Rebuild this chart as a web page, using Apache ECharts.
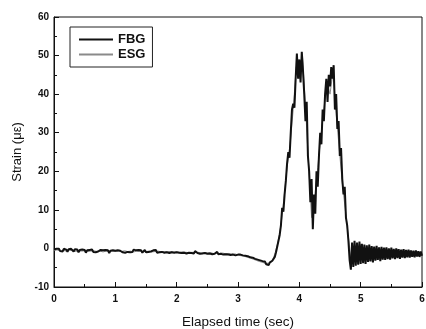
<!DOCTYPE html>
<html>
<head>
<meta charset="utf-8">
<script src="https://cdn.jsdelivr.net/npm/echarts@6/dist/echarts.min.js"></script>
<style>html,body{margin:0;padding:0;background:#fff;}#chart{width:426px;height:329px;}</style>
</head>
<body>
<div id="chart"></div>
<script>
// Sampling of the traces (seconds)
var fbgStart = 0, fbgStep = 0.02;
var esgStart = 0, esgStep = 0.05;

// FBG strain (µε), one value every 0.02 s from 0 to 6 s
var fbgStrain = [
  // 0.00 - 0.98
  -0.3,-0.7,-0.1,-0.6,-0.1,-0.7,-0.2,-0.8,-0.1,-0.6,
  -0.3,-0.9,-0.2,-0.7,-0.1,-0.6,-0.8,-0.2,-0.7,-0.3,
  -1.0,-0.4,-0.9,-0.3,-0.8,-0.4,-1.1,-0.5,-0.9,-0.4,
  -0.8,-0.3,-0.9,-0.4,-1.0,-0.5,-0.8,-1.1,-0.4,-0.9,
  -0.5,-1.0,-0.4,-0.9,-0.5,-1.2,-0.6,-1.0,-0.5,-0.9,
  // 1.00 - 1.98
  -0.6,-1.1,-0.5,-1.0,-0.6,-0.4,-1.0,-0.5,-1.1,-0.6,
  -0.9,-0.4,-1.0,-0.5,-0.9,-0.3,-0.8,-0.5,-1.0,-0.4,
  -0.9,-0.5,-1.1,-0.6,-0.4,-1.0,-0.5,-0.9,-0.4,-0.8,
  -1.0,-0.5,-0.9,-0.4,-1.1,-0.6,-1.0,-0.5,-0.9,-0.6,
  -1.1,-0.6,-1.0,-0.5,-1.2,-0.7,-1.0,-0.6,-1.1,-0.7,
  // 2.00 - 2.98
  -1.0,-0.6,-1.1,-0.7,-1.2,-0.7,-1.1,-0.6,-1.3,-0.8,
  -1.1,-0.7,-1.2,-0.8,-1.3,-0.7,-1.1,-1.2,-0.8,-1.4,
  -0.9,-1.3,-0.8,-1.2,-0.9,-1.4,-1.0,-1.3,-0.9,-1.5,
  -1.0,-1.4,-1.1,-0.9,-1.5,-1.1,-1.4,-1.0,-1.6,-1.1,
  -1.5,-1.2,-1.6,-1.1,-1.7,-1.3,-1.6,-1.2,-1.8,-1.4,
  // 3.00 - 3.48
  -1.6,-1.8,-1.6,-1.9,-1.8,-2.1,-1.9,-2.2,-2.0,-2.4,
  -2.3,-2.6,-2.4,-2.8,-2.7,-3.0,-2.9,-3.3,-3.1,-3.5,
  -3.3,-3.8,-3.4,-4.1,-3.7,
  // 3.50 - 3.58
  -4.3,-3.6,-4.0,-3.2,-3.5,
  // 3.60 - 3.96
  -2.2,-1.0,0.5,1.0,3.5,6.0,10.5,9.5,14,17.5,
  22,25,23.5,30,36,37.5,36.5,44,50.5,
  // 3.98 - 4.86
  44,49,43,51,46,40,33,38,24,20,
  12,18,5,14,9,20,16,24,30,27,
  36,33,40,44,38,45,42,47,44,47.5,
  36,40,31,33,24,26,18,14,16,8,
  6,2,-3,-5.5,1.5,
  // 4.88 - 6.00
  -4.8,2.0,-4.5,1.5,-4.2,1.8,-4.0,1.2,-3.8,1.0,
  -4.0,0.8,-3.5,1.0,-3.4,0.6,-3.6,0.5,-3.2,0.7,
  -3.0,0.3,-3.3,0.4,-2.9,0.2,-3.0,0.3,-2.8,0.0,
  -2.9,0.2,-2.6,-0.1,-2.8,0.0,-2.5,-0.2,-2.7,-0.3,
  -2.4,-0.2,-2.5,-0.4,-2.3,-0.3,-2.4,-0.5,-2.2,-0.6,
  -2.3,-0.5,-2.1,-0.7,-2.2,-0.8,-1.9
];

// ESG strain (µε), one value every 0.05 s from 0 to 6 s
var esgStrain = [
  -0.5,-0.4,-0.6,-0.5,-0.7,-0.5,-0.6,-0.8,-0.6,-0.7,-0.6,-0.8,-0.7,-0.6,-0.8,-0.7,-0.9,-0.7,-0.8,-0.7,
  -0.8,-0.7,-0.8,-0.6,-0.8,-0.7,-0.9,-0.7,-0.8,-0.7,-0.8,-0.7,-0.9,-0.8,-0.7,-0.9,-0.8,-0.9,-0.8,-0.9,
  -0.9,-1.0,-0.9,-1.0,-1.1,-1.0,-1.1,-1.0,-1.2,-1.1,-1.2,-1.1,-1.3,-1.2,-1.3,-1.2,-1.4,-1.3,-1.5,-1.4,
  -1.7,-1.9,-2.0,-2.3,-2.5,-2.8,-3.1,-3.4,-3.6,-3.9,-3.8,-3.5,
  -1.5,1.5,6,13,21,27,36,47,
  44,50,37,22,8,13,21,29,36,43,40,46,35,26,17,10,3,-4,-1,-4,
  1,-3.5,0.5,-3.2,0.3,-3,0.2,-2.8,0,-2.6,-0.2,-2.5,-0.3,-2.4,-0.4,-2.2,-0.6,-2.1,-0.8,-2.0,
  -1.5
];

var xTicks = [0, 1, 2, 3, 4, 5, 6];
var yTicks = [-10, 0, 10, 20, 30, 40, 50, 60];

function toPairs(start, step, vals) {
  var out = [];
  for (var i = 0; i < vals.length; i++) {
    out.push([+(start + i * step).toFixed(3), vals[i]]);
  }
  return out;
}

var font = 'Liberation Sans, Arial, Helvetica, sans-serif';
var chart = echarts.init(document.getElementById('chart'), null, {renderer: 'canvas'});
chart.setOption({
  animation: false,
  backgroundColor: '#fff',
  grid: {
    left: 54, right: 4, top: 17, bottom: 42,
    containLabel: false, outerBoundsMode: 'none',
    show: true, borderColor: '#111', borderWidth: 1, backgroundColor: 'transparent'
  },
  legend: {
    orient: 'vertical',
    left: 70, top: 27,
    borderColor: '#222', borderWidth: 1,
    padding: [6, 7, 6, 8],
    itemGap: 2,
    itemWidth: 34, itemHeight: 14,
    itemStyle: {opacity: 0},
    textStyle: {fontFamily: font, fontSize: 13, color: '#111', fontWeight: 'bold'},
    data: ['FBG', 'ESG']
  },
  xAxis: {
    type: 'value',
    min: xTicks[0], max: xTicks[xTicks.length - 1], interval: 1,
    name: 'Elapsed time (sec)', nameLocation: 'middle', nameGap: 28,
    nameTextStyle: {fontFamily: font, fontSize: 13.5, color: '#111'},
    axisLine: {show: true, onZero: false, lineStyle: {color: '#111', width: 1}},
    axisTick: {show: true, inside: true, length: 5, lineStyle: {color: '#111'}},
    minorTick: {show: true, splitNumber: 2, length: 3, lineStyle: {color: '#111'}},
    axisLabel: {fontFamily: font, fontSize: 10, color: '#111', margin: 7, fontWeight: 'bold'},
    splitLine: {show: false}
  },
  yAxis: {
    type: 'value',
    min: yTicks[0], max: yTicks[yTicks.length - 1], interval: 10,
    name: 'Strain (\u03bc\u03b5)', nameLocation: 'middle', nameGap: 28,
    nameTextStyle: {fontFamily: font, fontSize: 13, color: '#111'},
    axisLine: {show: true, onZero: false, lineStyle: {color: '#111', width: 1}},
    axisTick: {show: true, inside: true, length: 5, lineStyle: {color: '#111'}},
    minorTick: {show: true, splitNumber: 2, length: 3, lineStyle: {color: '#111'}},
    axisLabel: {fontFamily: font, fontSize: 10, color: '#111', margin: 5, fontWeight: 'bold'},
    splitLine: {show: false}
  },
  series: [
    {
      name: 'ESG', type: 'line', symbol: 'none', z: 2,
      data: toPairs(esgStart, esgStep, esgStrain),
      lineStyle: {color: '#8a8a8a', width: 1},
      itemStyle: {color: '#8a8a8a'}
    },
    {
      name: 'FBG', type: 'line', symbol: 'none', z: 3,
      data: toPairs(fbgStart, fbgStep, fbgStrain),
      lineStyle: {color: '#111', width: 2},
      itemStyle: {color: '#111'}
    }
  ]
});
</script>
</body>
</html>
